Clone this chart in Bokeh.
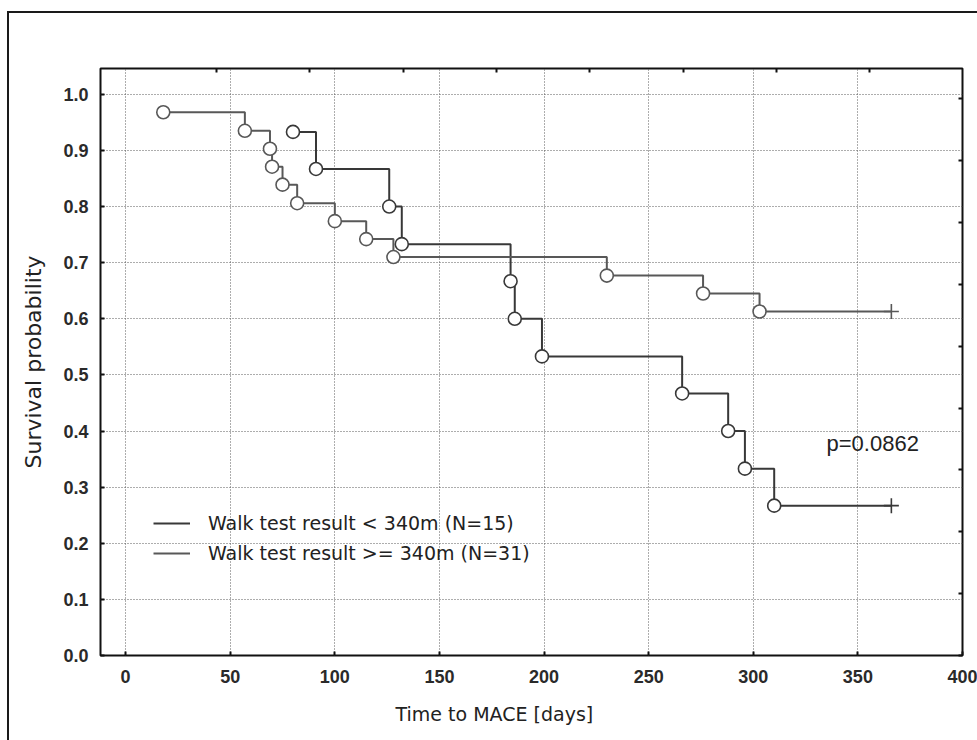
from bokeh.plotting import figure
from bokeh.models import Range1d, FixedTicker, LinearAxis, Legend, LegendItem, Label, PrintfTickFormatter, Title
from bokeh.embed import file_html
from bokeh.resources import INLINE

# ---- data ----
x_ticks = [0, 50, 100, 150, 200, 250, 300, 350, 400]
y_ticks = [0.0, 0.1, 0.2, 0.3, 0.4, 0.5, 0.6, 0.7, 0.8, 0.9, 1.0]

x_title = "Time to MACE [days]"
y_title = "Survival probability"

label_lo = "Walk test result < 340m (N=15)"
t_lo = [80, 91, 126, 132, 184, 186, 199, 266, 288, 296, 310]
s_lo = [0.933, 0.867, 0.800, 0.733, 0.667, 0.600, 0.533, 0.467, 0.400, 0.333, 0.267]
censor_lo = 366

label_hi = "Walk test result >= 340m (N=31)"
t_hi = [18, 57, 69, 70, 75, 82, 100, 115, 128, 230, 276, 303]
s_hi = [0.968, 0.935, 0.903, 0.871, 0.839, 0.806, 0.774, 0.742, 0.710, 0.677, 0.645, 0.613]
censor_hi = 366

p_text = "p=0.0862"

TEXT_FONT = "DejaVu Sans"

# ---- figure ----
p = figure(frame_width=862, frame_height=587,
           min_border_left=91, min_border_right=15, min_border_top=55, min_border_bottom=85,
           x_range=Range1d(-12, 400), y_range=Range1d(0, 1.046),
           output_backend="svg", toolbar_location=None)
p.styles = {"margin-left": "7px", "margin-top": "11px",
            "border-left": "2px solid #1a1a1a", "border-top": "2px solid #1a1a1a"}
p.background_fill_color = "white"
p.border_fill_color = "white"
p.outline_line_color = "#111111"
p.outline_line_width = 2

# axes
xa = p.below[0]
ya = p.left[0]
xa.ticker = FixedTicker(ticks=x_ticks)
ya.ticker = FixedTicker(ticks=y_ticks)
ya.formatter = PrintfTickFormatter(format="%.1f")
for ax in (xa, ya):
    ax.axis_line_color = None
    ax.major_tick_in = 4
    ax.major_tick_out = 0
    ax.major_tick_line_color = "#111111"
    ax.major_tick_line_width = 2
    ax.minor_tick_line_color = None
    ax.major_label_text_font = "Liberation Sans"
    ax.major_label_text_font_size = "18px"
    ax.major_label_text_font_style = "bold"
    ax.major_label_text_color = "#2a2a2a"
    ax.axis_label_text_font = TEXT_FONT
    ax.axis_label_text_font_style = "normal"
    ax.axis_label_text_color = "#222222"
ya.axis_label = y_title
ya.axis_label_text_font_size = "22px"
xa.major_label_standoff = 14
ya.major_label_standoff = 12
ya.axis_label_standoff = 14

# x title sits left of the frame centre in the original
p.add_layout(Title(text=x_title, align="left", offset=295, standoff=31,
                   text_font=TEXT_FONT, text_font_size="19px",
                   text_font_style="normal", text_color="#222222"), "below")

# secondary (unlabelled) tick marks on top and right
top_ticks = [43.5 + 44.6 * k for k in range(8)]
right_ticks = [0.1102 * k for k in range(10)]
ta = LinearAxis(ticker=FixedTicker(ticks=top_ticks))
ra = LinearAxis(ticker=FixedTicker(ticks=right_ticks))
for ax, tk in ((ta, top_ticks), (ra, right_ticks)):
    ax.axis_line_color = None
    ax.major_tick_in = 4
    ax.major_tick_out = 0
    ax.major_tick_line_color = "#111111"
    ax.major_tick_line_width = 2
    ax.minor_tick_line_color = None
    ax.major_label_overrides = {t: "" for t in tk}
    ax.major_label_text_color = None
    ax.major_label_standoff = 0
p.add_layout(ta, "above")
p.add_layout(ra, "right")

# grid
p.xgrid[0].ticker = FixedTicker(ticks=x_ticks)
p.ygrid[0].ticker = FixedTicker(ticks=y_ticks)
for g in (p.xgrid[0], p.ygrid[0]):
    g.grid_line_color = "#5a5a5a"
    g.grid_line_dash = "1 2"
    g.grid_line_width = 1

# curves
col_lo = "#383838"
col_hi = "#585858"
r_lo = p.step(t_lo + [censor_lo], s_lo + [s_lo[-1]], mode="after", line_color=col_lo, line_width=2)
r_hi = p.step(t_hi + [censor_hi], s_hi + [s_hi[-1]], mode="after", line_color=col_hi, line_width=2)
p.scatter(t_lo, s_lo, marker="circle", size=13, fill_color="white", line_color=col_lo, line_width=1.6)
p.scatter(t_hi, s_hi, marker="circle", size=13, fill_color="white", line_color=col_hi, line_width=1.6)
p.scatter([censor_lo], [s_lo[-1]], marker="cross", size=15, line_color=col_lo, line_width=1.6)
p.scatter([censor_hi], [s_hi[-1]], marker="cross", size=15, line_color=col_hi, line_width=1.6)

legend = Legend(items=[LegendItem(label=label_lo, renderers=[r_lo]),
                       LegendItem(label=label_hi, renderers=[r_hi])],
                location=(53, 91), background_fill_alpha=0, border_line_color=None,
                padding=0, margin=0, spacing=8, glyph_width=37, glyph_height=22,
                label_height=22, label_standoff=18,
                label_text_font=TEXT_FONT, label_text_font_size="19px",
                label_text_color="#222222")
p.add_layout(legend)

p.add_layout(Label(x=335, y=0.378, text=p_text, text_font="Liberation Sans",
                   text_font_size="22px", text_color="#222222", text_baseline="middle"))

open("out.html", "w").write(file_html(p, INLINE))
